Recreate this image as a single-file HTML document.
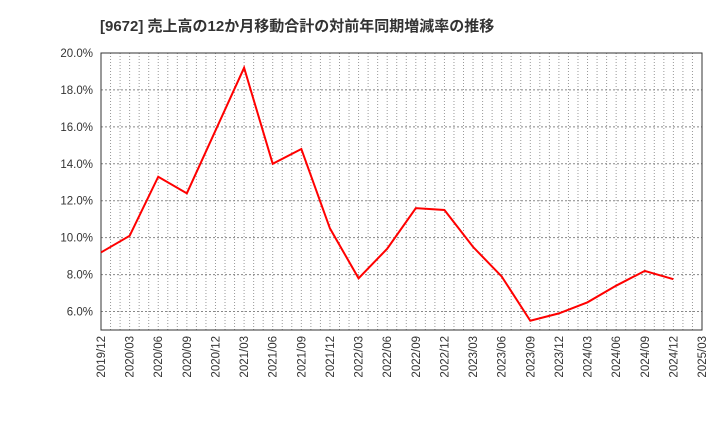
<!DOCTYPE html>
<html><head><meta charset="utf-8"><style>
body{margin:0;background:#fff;}
text{font-family:"Liberation Sans","Noto Sans CJK JP",sans-serif;}
</style></head><body>
<svg id="chart" width="720" height="440" xmlns="http://www.w3.org/2000/svg">
<text x="100" y="31" font-size="15" font-weight="bold" fill="#333">[9672]  売上高の12か月移動合計の対前年同期増減率の推移</text>
<g id="grid"></g><g id="axes"></g><g id="series"></g>
</svg>
<script>
const categories=["2019/12","2020/03","2020/06","2020/09","2020/12","2021/03","2021/06","2021/09","2021/12","2022/03","2022/06","2022/09","2022/12","2023/03","2023/06","2023/09","2023/12","2024/03","2024/06","2024/09","2024/12","2025/03"];
const values=[9.2,10.1,13.3,12.4,15.8,19.2,14.0,14.8,10.5,7.8,9.4,11.6,11.5,9.5,7.9,5.5,5.9,6.5,7.4,8.2,7.75];
const yTicks=[6,8,10,12,14,16,18,20];
const L=101,R=702,T=53,B=330,yMin=5,yMax=20;
const ns="http://www.w3.org/2000/svg";
const xs=i=>L+(R-L)*i/(categories.length-1);
const ys=v=>B-(B-T)*(v-yMin)/(yMax-yMin);
function mk(tag,attrs,parent){const e=document.createElementNS(ns,tag);for(const k in attrs)e.setAttribute(k,attrs[k]);document.getElementById(parent).appendChild(e);return e;}
const nMonths=(categories.length-1)*3;
for(let m=1;m<nMonths;m++){const x=L+(R-L)*m/nMonths;
const l=mk("line",{x1:x,x2:x,y1:T,y2:B,stroke:"#999","stroke-dasharray":"1,2","stroke-width":1},"grid");

}
yTicks.forEach(v=>{const y=ys(v);
const l=mk("line",{x1:L,x2:R,y1:y,y2:y,stroke:"#888","stroke-dasharray":"2,2","stroke-width":1},"grid");


const t=mk("text",{x:L-8,y:y+4,"text-anchor":"end","font-size":11.5,fill:"#333"},"axes");t.textContent=v.toFixed(1)+"%";

});
const fr=mk("rect",{x:L,y:T,width:R-L,height:B-T,fill:"none",stroke:"#333","stroke-width":1},"axes");


categories.forEach((c,i)=>{const x=xs(i);
const t=mk("text",{x:0,y:0,"text-anchor":"end","font-size":11.5,fill:"#333",transform:`translate(${x+4},${B+6}) rotate(-90)`},"axes");t.textContent=c;

});
const p=mk("polyline",{points:values.map((v,i)=>xs(i)+","+ys(v)).join(" "),fill:"none",stroke:"#f00","stroke-width":2},"series");


</script>
</body></html>
